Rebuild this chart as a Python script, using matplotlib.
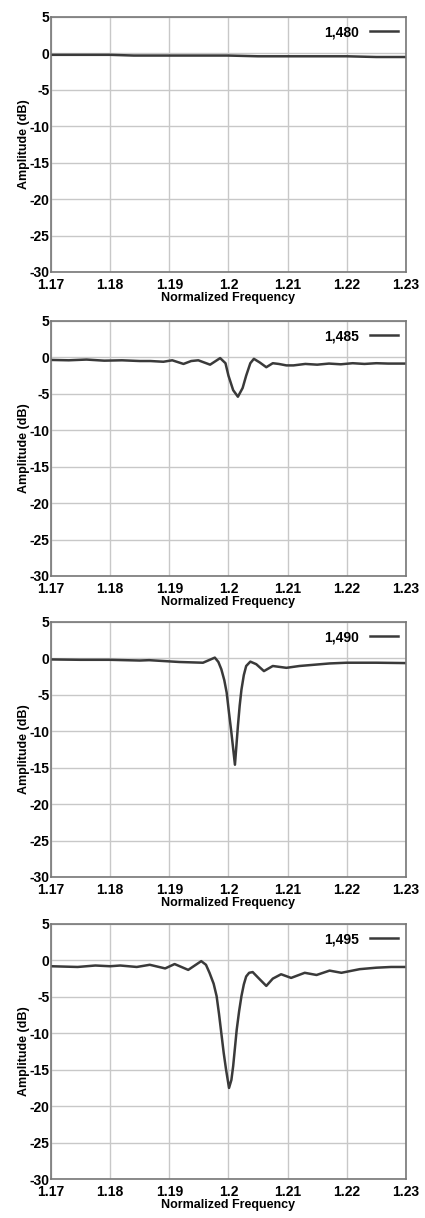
import numpy as np
import matplotlib
matplotlib.use('Agg')
import matplotlib.pyplot as plt

plt.rcParams['font.family'] = ['Liberation Sans', 'DejaVu Sans']
plt.rcParams['axes.unicode_minus'] = False

# values (normalized frequency, amplitude in dB)
labels = ['1,480', '1,485', '1,490', '1,495']

f_1480 = [1.17, 1.175, 1.18, 1.184, 1.19, 1.195, 1.2, 1.205, 1.21, 1.215, 1.22, 1.225, 1.23]
a_1480 = [-0.2, -0.2, -0.2, -0.3, -0.3, -0.3, -0.3, -0.4, -0.4, -0.4, -0.4, -0.5, -0.5]

f_1485 = [1.17, 1.173, 1.176, 1.179, 1.182, 1.185, 1.1868, 1.189, 1.1905, 1.1924,
          1.1937, 1.1949, 1.1969, 1.1986, 1.1995, 1.2, 1.2008, 1.2016, 1.2024, 1.203,
          1.2037, 1.2043, 1.2053, 1.2064, 1.2075, 1.2085, 1.2098, 1.211, 1.213, 1.215,
          1.217, 1.219, 1.221, 1.223, 1.225, 1.227, 1.23]
a_1485 = [-0.35, -0.4, -0.3, -0.45, -0.4, -0.5, -0.5, -0.6, -0.4, -0.9,
          -0.5, -0.4, -1.0, -0.1, -0.8, -2.5, -4.5, -5.4, -4.2, -2.5,
          -0.8, -0.2, -0.7, -1.35, -0.8, -0.9, -1.1, -1.1, -0.9, -1.0,
          -0.85, -0.95, -0.8, -0.9, -0.8, -0.85, -0.85]

f_1490 = [1.17, 1.175, 1.18, 1.185, 1.1866, 1.1917, 1.1957, 1.1977, 1.1983, 1.1988,
          1.1993, 1.1997, 1.2001, 1.2005, 1.2011, 1.2016, 1.2019, 1.2022, 1.2026, 1.203,
          1.2037, 1.2047, 1.206, 1.2075, 1.2098, 1.212, 1.2171, 1.22, 1.225, 1.23]
a_1490 = [-0.15, -0.2, -0.2, -0.3, -0.25, -0.5, -0.6, 0.1, -0.5, -1.5,
          -3.0, -4.7, -7.5, -10.2, -14.6, -9.3, -6.5, -4.3, -2.3, -1.05,
          -0.45, -0.8, -1.75, -1.05, -1.3, -1.05, -0.7, -0.6, -0.6, -0.65]

f_1495 = [1.17, 1.1745, 1.1775, 1.18, 1.1817, 1.1845, 1.1867, 1.1893, 1.1909, 1.1932,
          1.1954, 1.1962, 1.1968, 1.1975, 1.198, 1.1984, 1.1988, 1.1992, 1.1996, 1.2001,
          1.2005, 1.2008, 1.2011, 1.2014, 1.2018, 1.2022, 1.2026, 1.203, 1.2035, 1.2041,
          1.2053, 1.2064, 1.2075, 1.2089, 1.2106, 1.2129, 1.2149, 1.2171, 1.2191, 1.2222,
          1.225, 1.2275, 1.23]
a_1495 = [-0.8, -0.9, -0.7, -0.8, -0.7, -0.9, -0.6, -1.1, -0.5, -1.3,
          -0.1, -0.6, -1.7, -3.2, -4.9, -7.3, -10.0, -12.7, -15.0, -17.5,
          -16.4, -14.5, -12.0, -9.5, -7.0, -4.9, -3.3, -2.2, -1.7, -1.6,
          -2.6, -3.5, -2.5, -1.9, -2.4, -1.7, -2.0, -1.4, -1.7, -1.2,
          -1.0, -0.9, -0.9]

traces = [(f_1480, a_1480), (f_1485, a_1485), (f_1490, a_1490), (f_1495, a_1495)]

xticks = [1.17, 1.18, 1.19, 1.2, 1.21, 1.22, 1.23]
xticklabels = ['1.17', '1.18', '1.19', '1.2', '1.21', '1.22', '1.23']
yticks = [5, 0, -5, -10, -15, -20, -25, -30]

fig = plt.figure(figsize=(4.25, 12.18), dpi=100)

bottoms = [0.7767, 0.5271, 0.2800, 0.0320]
for (f, a), lab, b in zip(traces, labels, bottoms):
    ax = fig.add_axes([0.12, b, 0.835, 0.2094])
    ax.plot(f, a, color='#3a3a3a', linewidth=1.8, label=lab)
    ax.set_xlim(1.17, 1.23)
    ax.set_ylim(-30, 5)
    ax.set_xticks(xticks)
    ax.set_xticklabels(xticklabels)
    ax.set_yticks(yticks)
    ax.tick_params(axis='y', length=0, labelsize=10, pad=1)
    ax.tick_params(axis='x', length=0, labelsize=10, pad=4)
    for t in ax.get_xticklabels() + ax.get_yticklabels():
        t.set_fontweight('bold')
    ax.grid(True, color='#c8c8c8', linewidth=1.0)
    for s in ax.spines.values():
        s.set_color('#777777')
        s.set_linewidth(1.2)
    ax.set_xlabel('Normalized Frequency', fontsize=9, fontweight='bold', labelpad=0)
    ax.set_ylabel('Amplitude (dB)', fontsize=9, fontweight='bold', labelpad=0)
    ax.legend(loc='upper right', frameon=False, markerfirst=False,
              prop={'size': 10, 'weight': 'bold'}, handlelength=2.0, borderaxespad=0.2)

plt.savefig('out.png', dpi=100)
plt.close()
